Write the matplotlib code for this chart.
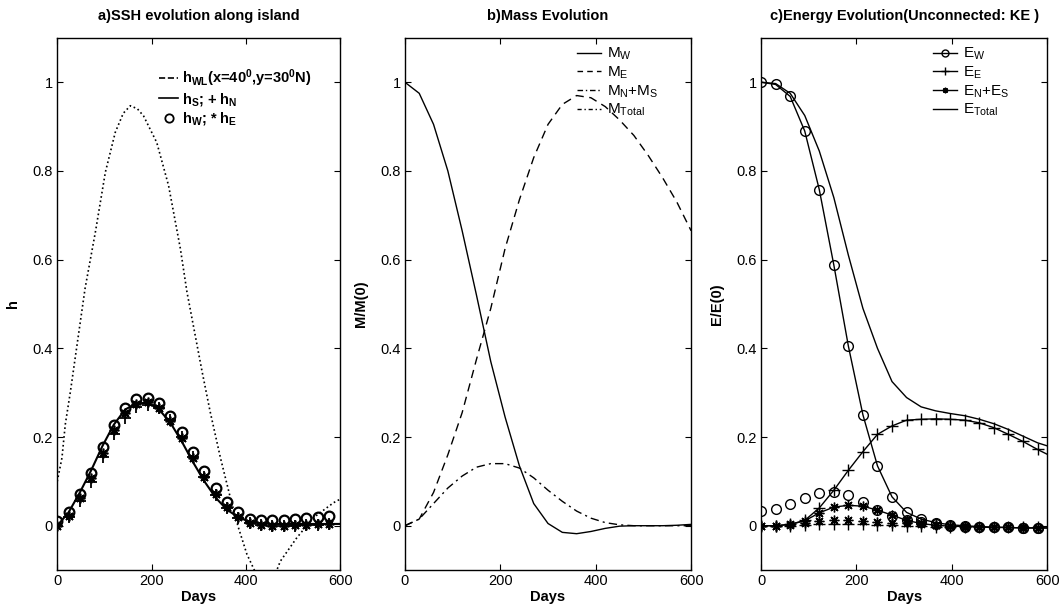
import numpy as np
import matplotlib
matplotlib.use("Agg")
import matplotlib.pyplot as plt
from matplotlib.lines import Line2D

plt.rcParams['font.family'] = ['Liberation Sans', 'DejaVu Sans']
plt.rcParams['mathtext.default'] = 'regular'

# ---- a) SSH evolution along island ----
days_a = np.arange(0, 600, 24)          # marker days 0..576
h_W = [0.011, 0.031, 0.072, 0.119, 0.177, 0.228, 0.265, 0.286, 0.289, 0.276, 0.247, 0.211, 0.166,
       0.123, 0.085, 0.054, 0.031, 0.016, 0.012, 0.012, 0.013, 0.016, 0.018, 0.020, 0.022]
h_E = [0.0, 0.022, 0.062, 0.108, 0.165, 0.215, 0.255, 0.275, 0.279, 0.266, 0.236, 0.198, 0.153,
       0.110, 0.072, 0.042, 0.020, 0.007, 0.002, 0.0, 0.0, 0.001, 0.002, 0.003, 0.004]
h_N = [0.0, 0.020, 0.055, 0.099, 0.154, 0.207, 0.244, 0.267, 0.273, 0.265, 0.238, 0.200, 0.155,
       0.110, 0.070, 0.040, 0.018, 0.006, 0.001, -0.001, -0.001, 0.0, 0.001, 0.002, 0.003]
days_s = list(days_a) + [600]
h_S = [0.0, 0.030, 0.075, 0.125, 0.180, 0.228, 0.262, 0.276, 0.277, 0.262, 0.232, 0.190, 0.143,
       0.100, 0.063, 0.036, 0.019, 0.009, 0.005, 0.004, 0.004, 0.004, 0.004, 0.004, 0.004, 0.004]
days_wl = [0, 10, 17, 28, 38, 59, 81, 102, 123, 140, 155, 170, 183, 211, 236, 261, 275, 307, 324,
           346, 367, 384, 402, 420, 440, 460, 473, 508, 543, 586, 600]
h_WL = [0.10, 0.153, 0.228, 0.303, 0.378, 0.535, 0.663, 0.797, 0.887, 0.93, 0.947, 0.94, 0.924,
        0.864, 0.767, 0.625, 0.527, 0.348, 0.258, 0.153, 0.063, -0.004, -0.064, -0.105, -0.125,
        -0.115, -0.08, -0.027, 0.018, 0.052, 0.06]

# ---- b) Mass evolution ----
days_b = np.arange(0, 601, 30)
M_W = [1.0, 0.975, 0.905, 0.80, 0.665, 0.52, 0.37, 0.245, 0.135, 0.05, 0.005, -0.015, -0.018,
       -0.013, -0.006, -0.001, 0.0, 0.0, 0.0, 0.001, 0.003]
M_E = [0.0, 0.015, 0.075, 0.16, 0.255, 0.375, 0.49, 0.625, 0.735, 0.83, 0.905, 0.95, 0.97,
       0.965, 0.945, 0.915, 0.88, 0.835, 0.785, 0.73, 0.665]
M_NS = [0.0, 0.015, 0.05, 0.085, 0.112, 0.132, 0.14, 0.14, 0.13, 0.108, 0.08, 0.055, 0.033,
        0.017, 0.007, 0.002, 0.0, 0.0, 0.0, 0.0, 0.0]

# ---- c) Energy evolution ----
days_c = np.append(np.arange(20) * 30.5, 600)
E_W = [1.0, 0.995, 0.968, 0.89, 0.758, 0.588, 0.405, 0.25, 0.135, 0.065, 0.03, 0.015, 0.007,
       0.002, 0.0, -0.002, -0.003, -0.004, -0.005, -0.005, -0.005]
E_E = [0.0, 0.0, 0.003, 0.012, 0.04, 0.08, 0.125, 0.167, 0.206, 0.225, 0.238, 0.24, 0.241,
       0.24, 0.238, 0.232, 0.221, 0.206, 0.19, 0.172, 0.161]
E_NS = [0.0, 0.0, 0.003, 0.011, 0.029, 0.042, 0.046, 0.044, 0.035, 0.024, 0.012, 0.005, 0.001,
        -0.001, -0.002, -0.003, -0.004, -0.004, -0.005, -0.005, -0.005]
E_Tot = [1.0, 0.997, 0.975, 0.925, 0.845, 0.74, 0.61, 0.49, 0.40, 0.325, 0.289, 0.268, 0.259,
         0.253, 0.248, 0.24, 0.23, 0.217, 0.202, 0.187, 0.18]
# unconnected case (markers only)
uE_W = [0.034, 0.038, 0.048, 0.063, 0.074, 0.076, 0.069, 0.054, 0.036, 0.022, 0.013, 0.008,
        0.004, 0.0, -0.002, -0.003, -0.004, -0.004, -0.005, -0.005]
uE_NS = [0.0, 0.0, 0.002, 0.006, 0.010, 0.012, 0.012, 0.011, 0.009, 0.007, 0.005, 0.003, 0.001,
         0.0, -0.001, -0.002, -0.003, -0.004, -0.004, -0.005]
uE_E = [0.0, 0.0, 0.0, 0.002, 0.003, 0.004, 0.004, 0.003, 0.002, 0.001, 0.0, -0.001, -0.002,
        -0.002, -0.003, -0.003, -0.004, -0.004, -0.004, -0.004]

ast = (8, 2, 0)   # matlab-like asterisk

fig = plt.figure(figsize=(10.6, 6.11), dpi=100)
axa = fig.add_axes([0.054, 0.067, 0.267, 0.871])
axb = fig.add_axes([0.382, 0.067, 0.270, 0.871])
axc = fig.add_axes([0.718, 0.067, 0.270, 0.871])

# panel a
axa.plot(days_wl, h_WL, ':', color='k', lw=1.2)
axa.plot(days_s, h_S, '-', color='k', lw=1.5)
axa.plot(days_a, h_N, '+', color='k', ms=8, mew=1.3, ls='none')
axa.plot(days_a, h_E, marker=ast, color='k', ms=7, mew=1.2, ls='none')
axa.plot(days_a, h_W, 'o', mfc='none', mec='k', ms=7, mew=1.6, ls='none')
hdl_a = [Line2D([], [], ls='--', color='k', lw=1.2),
         Line2D([], [], ls='-', color='k', lw=1.2),
         Line2D([], [], ls='none', marker='o', mfc='none', mec='k', ms=6, mew=1.3)]
lab_a = [r'$h_{WL}$(x=40$^0$,y=30$^0$N)', r'$h_S$; + $h_N$', r'$h_W$; * $h_E$']
axa.legend(hdl_a, lab_a, loc='upper left', bbox_to_anchor=(0.36, 0.945), frameon=False,
           prop={'weight': 'bold', 'size': 10.5}, handlelength=1.3, handletextpad=0.3,
           labelspacing=0.15, borderpad=0, borderaxespad=0)
axa.set_title('a)SSH evolution along island', fontsize=10.5, fontweight='bold', pad=13)
axa.set_ylabel('h', fontsize=10.5, fontweight='bold', labelpad=9)

# panel b
axb.plot(days_b, M_W, '-', color='k', lw=1.0)
axb.plot(days_b, M_E, '--', color='k', lw=1.0, dashes=(6, 4))
axb.plot(days_b, M_NS, '-.', color='k', lw=1.0, dashes=(6, 3, 1.5, 3))
hdl_b = [Line2D([], [], ls='-', color='k', lw=1.0),
         Line2D([], [], ls='--', color='k', lw=1.0, dashes=(4, 3)),
         Line2D([], [], ls='-.', color='k', lw=1.0, dashes=(4, 2, 1, 2)),
         Line2D([], [], ls='-.', color='k', lw=1.0, dashes=(3, 2, 1, 2))]
lab_b = [r'$M_W$', r'$M_E$', r'$M_N$+$M_S$', r'$M_{Total}$']
axb.legend(hdl_b, lab_b, loc='upper left', bbox_to_anchor=(0.6, 0.985), frameon=False,
           fontsize=11, handlelength=1.6, handletextpad=0.4, labelspacing=0.15,
           borderpad=0, borderaxespad=0)
axb.set_title('b)Mass Evolution', fontsize=10.5, fontweight='bold', pad=13)
axb.set_ylabel('M/M(0)', fontsize=10.5, fontweight='bold', labelpad=9)

# panel c
mk = list(range(20))
axc.plot(days_c, E_Tot, '-', color='k', lw=1.0)
axc.plot(days_c, E_W, '-', color='k', lw=1.0, marker='o', mfc='none', mec='k', ms=7,
         mew=1.0, markevery=mk)
axc.plot(days_c, E_E, '-', color='k', lw=1.0, marker='+', mec='k', ms=8, mew=1.0, markevery=mk)
axc.plot(days_c, E_NS, '-', color='k', lw=1.0, marker=ast, mec='k', ms=7, mew=1.0, markevery=mk)
axc.plot(days_c[:20], uE_W, 'o', mfc='none', mec='k', ms=7, mew=1.0, ls='none')
axc.plot(days_c[:20], uE_NS, marker=ast, color='k', ms=7, mew=1.0, ls='none')
axc.plot(days_c[:20], uE_E, '+', color='k', ms=9, mew=1.0, ls='none')
hdl_c = [Line2D([], [], ls='-', color='k', lw=1.0, marker='o', mfc='none', ms=5),
         Line2D([], [], ls='-', color='k', lw=1.0, marker='+', ms=6),
         Line2D([], [], ls='-', color='k', lw=1.0, marker=ast, ms=4),
         Line2D([], [], ls='-', color='k', lw=1.0)]
lab_c = [r'$E_W$', r'$E_E$', r'$E_N$+$E_S$', r'$E_{Total}$']
axc.legend(hdl_c, lab_c, loc='upper left', bbox_to_anchor=(0.6, 0.985), frameon=False,
           fontsize=11, handlelength=1.6, handletextpad=0.4, labelspacing=0.15,
           borderpad=0, borderaxespad=0)
axc.set_title('c)Energy Evolution(Unconnected: KE )', fontsize=10.5, fontweight='bold', pad=13)
axc.set_ylabel('E/E(0)', fontsize=10.5, fontweight='bold', labelpad=9)

for ax in (axa, axb, axc):
    ax.set_xlim(0, 600)
    ax.set_ylim(-0.1, 1.1)
    ax.set_xticks([0, 200, 400, 600])
    ax.set_yticks([0, 0.2, 0.4, 0.6, 0.8, 1])
    ax.set_yticklabels(['0', '0.2', '0.4', '0.6', '0.8', '1'])
    ax.tick_params(direction='in', top=True, right=True, length=4, labelsize=10.5, pad=3)
    ax.set_xlabel('Days', fontsize=10.5, fontweight='bold', labelpad=1)
    for s in ax.spines.values():
        s.set_linewidth(1.0)

fig.savefig('out.png', dpi=100)
